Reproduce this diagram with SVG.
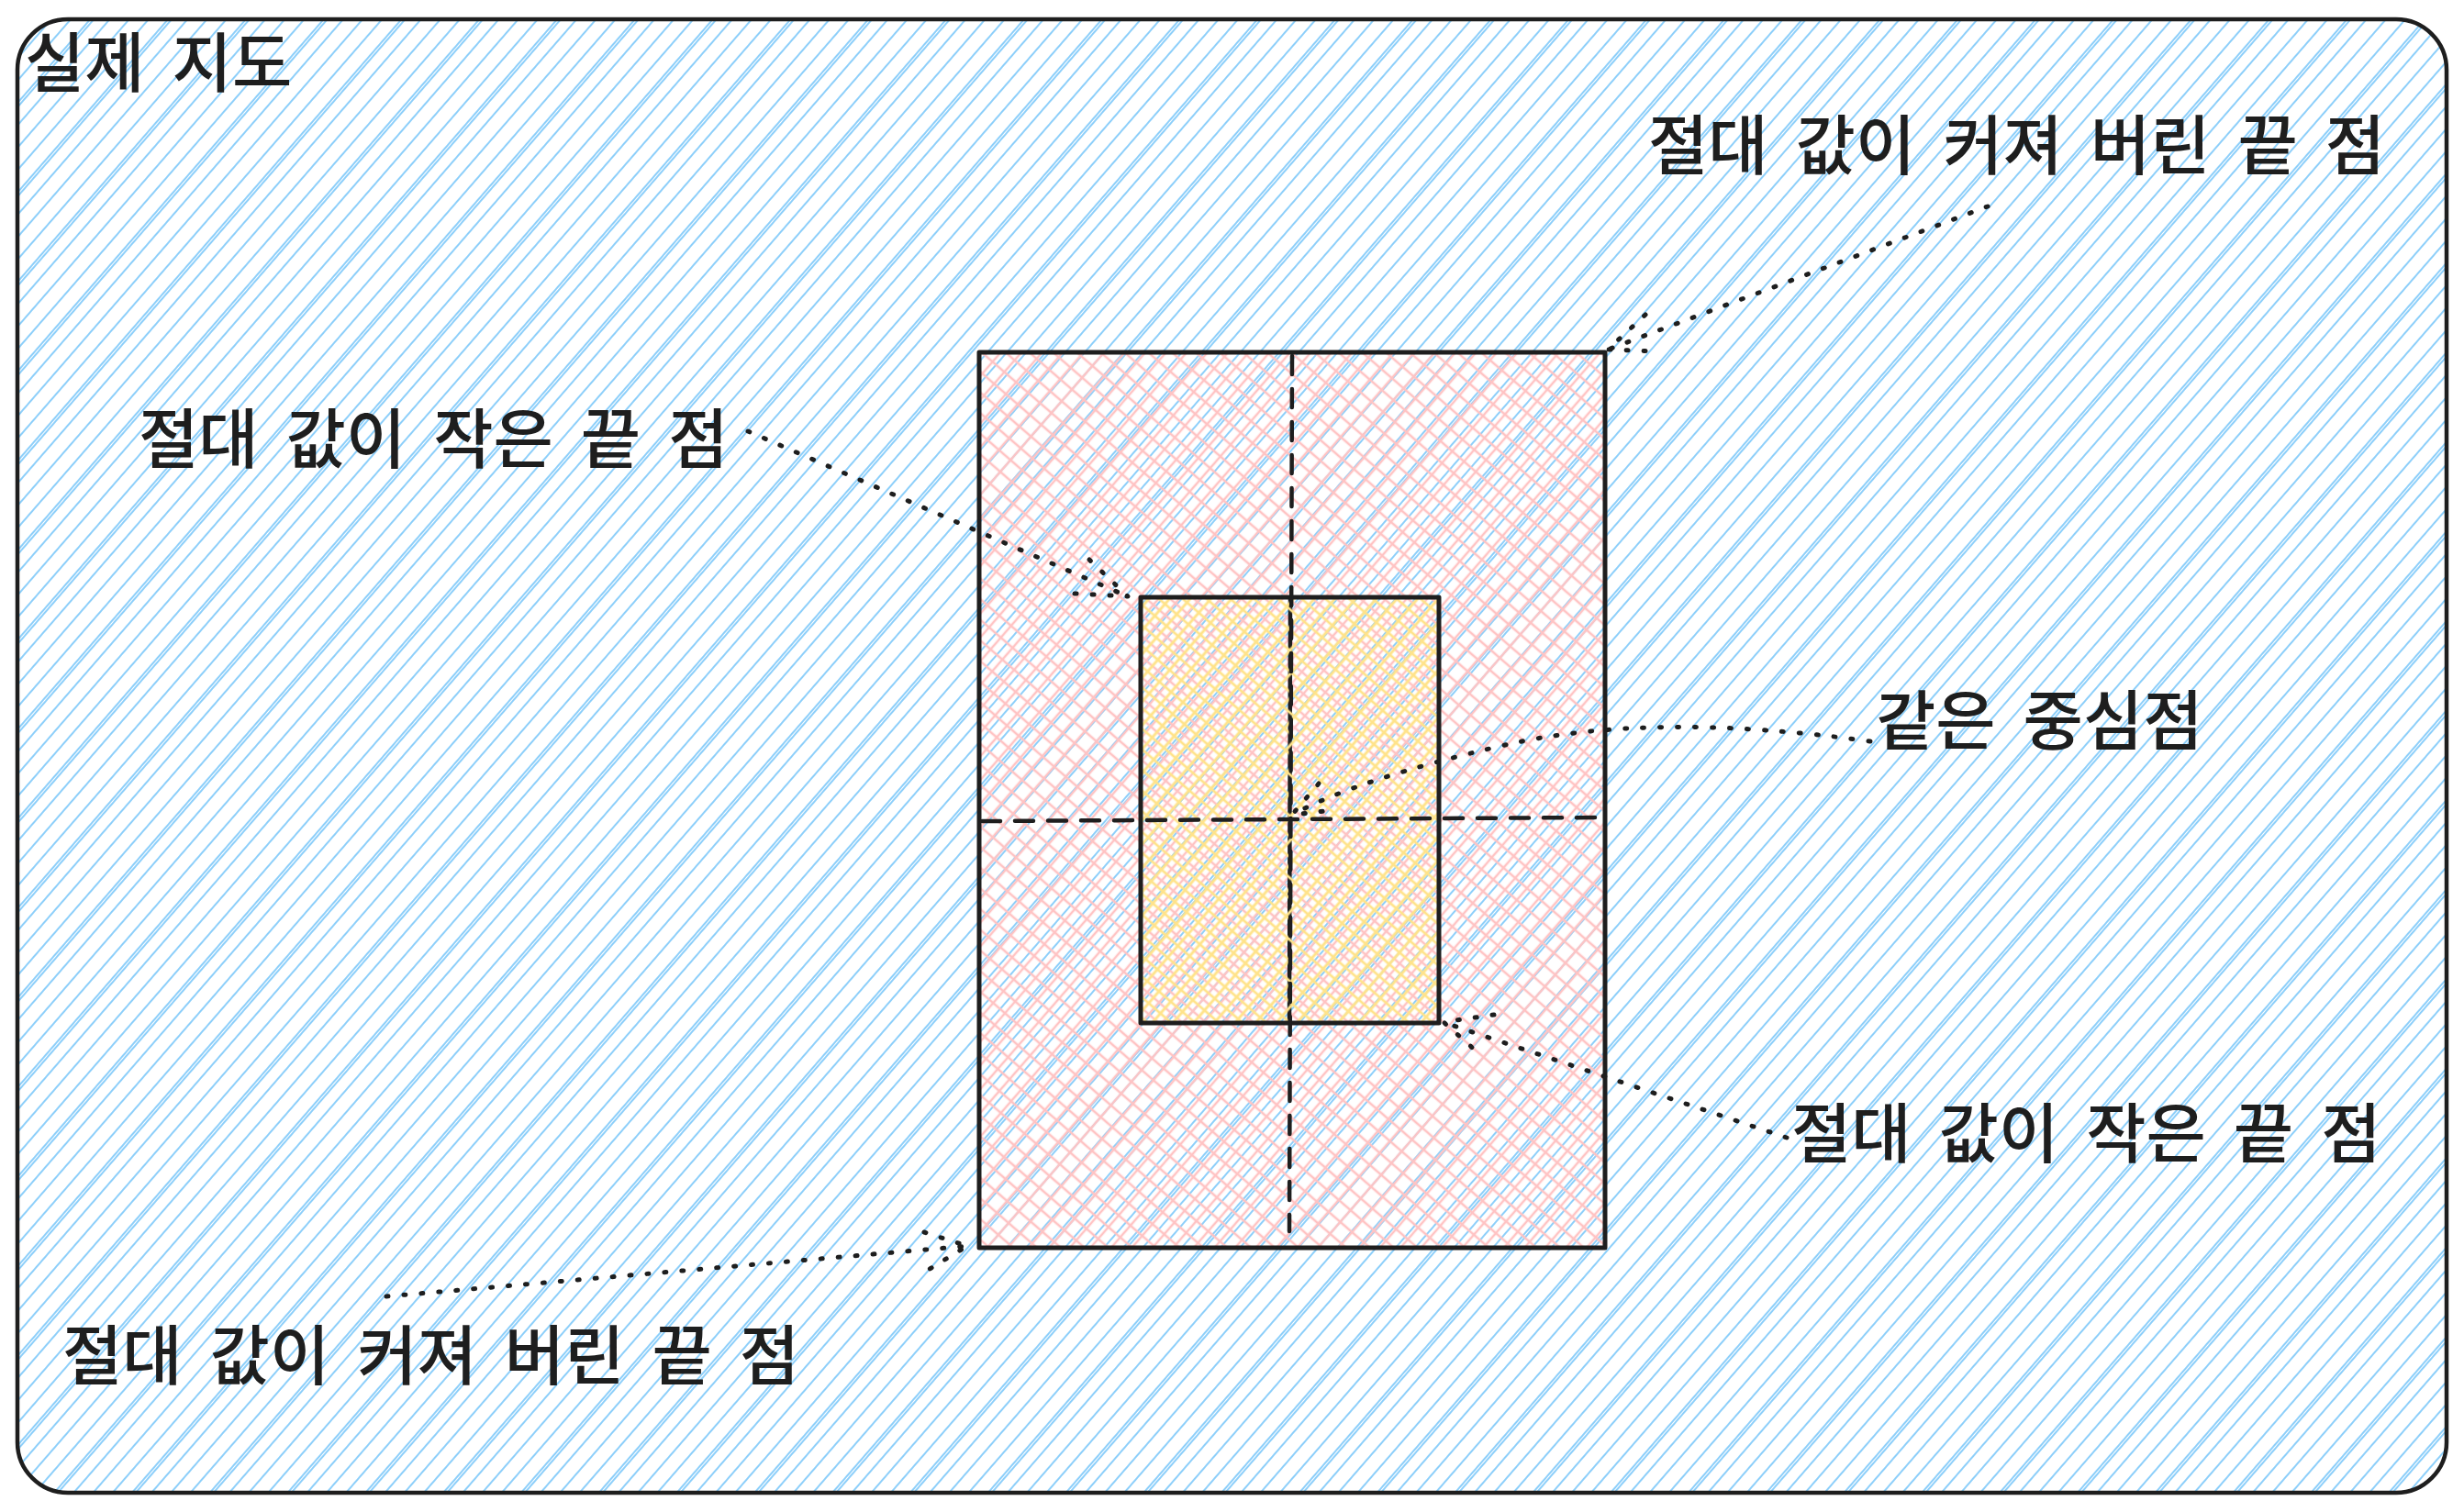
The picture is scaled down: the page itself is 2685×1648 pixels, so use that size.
<svg xmlns="http://www.w3.org/2000/svg" width="2685" height="1648" viewBox="0 0 2685 1648">
<defs>
<style>
.lbl{font-family:"Noto Sans CJK KR","Noto Sans CJK SC",sans-serif;font-size:71px;font-weight:500;fill:#1e1e1e;word-spacing:14px}
.edge{fill:none;stroke:#1e1e1e;stroke-width:5;stroke-linejoin:round;stroke-linecap:round}
.axis{fill:none;stroke:#1e1e1e;stroke-width:4.5;stroke-dasharray:20 16;stroke-linecap:round}
.solid{fill:none;stroke:#1e1e1e;stroke-width:4.5;stroke-linecap:round}
.dot{fill:none;stroke:#1e1e1e;stroke-width:5;stroke-dasharray:2 17;stroke-linecap:round;stroke-linejoin:round}
</style>
<pattern id="hBlue" patternUnits="userSpaceOnUse" width="100" height="64" patternTransform="rotate(-49)">
<g stroke="#8dcffa" stroke-width="2">
<line x1="0" y1="8" x2="100" y2="8"/>
<line x1="0" y1="24" x2="100" y2="24"/>
<line x1="0" y1="27" x2="100" y2="27"/>
<line x1="0" y1="40" x2="100" y2="40"/>
<line x1="0" y1="56" x2="100" y2="56"/>
</g>
</pattern>
<pattern id="xPink" patternUnits="userSpaceOnUse" width="51" height="51" patternTransform="rotate(-49)">
<g stroke="#ffc3c3" stroke-width="2.6">
<line x1="0" y1="4" x2="51" y2="4"/>
<line x1="0" y1="21" x2="51" y2="21"/>
<line x1="0" y1="38" x2="51" y2="38"/>
<line x1="4" y1="0" x2="4" y2="51"/>
<line x1="21" y1="0" x2="21" y2="51"/>
<line x1="38" y1="0" x2="38" y2="51"/>
</g>
</pattern>
<pattern id="xYellow" patternUnits="userSpaceOnUse" width="51" height="51" patternTransform="rotate(-49) translate(9 9)">
<g stroke="#ffe38a" stroke-width="2.8">
<line x1="0" y1="4" x2="51" y2="4"/>
<line x1="0" y1="21" x2="51" y2="21"/>
<line x1="0" y1="38" x2="51" y2="38"/>
<line x1="4" y1="0" x2="4" y2="51"/>
<line x1="21" y1="0" x2="21" y2="51"/>
<line x1="38" y1="0" x2="38" y2="51"/>
</g>
</pattern>
</defs>
<rect x="0" y="0" width="2685" height="1648" fill="#ffffff"/>
<g id="map">
<rect x="19" y="21" width="2647" height="1606" rx="55" fill="url(#hBlue)"/>
<rect x="19" y="21" width="2647" height="1606" rx="55" class="edge" style="stroke-width:4.5"/>
<text class="lbl" x="27" y="94">실제 지도</text>
</g>
<g id="big-extent">
<rect x="1067" y="384" width="682" height="976" fill="url(#xPink)"/>
<rect x="1067" y="384" width="682" height="976" class="edge"/>
</g>
<g id="small-extent">
<path class="solid" d="M1406,651 L1405,1115"/>
<rect x="1243" y="651" width="325" height="464" fill="url(#xYellow)"/>
<rect x="1243" y="651" width="325" height="464" class="edge"/>
</g>
<g id="axes">
<path class="axis" d="M1408,388 L1405,1342"/>
<path class="axis" d="M1070,895 L1740,891"/>
</g>
<g id="label-big-top" class="lbl"><text x="1796" y="184">절대 값이 커져 버린 끝 점</text></g>
<g id="label-small-top" class="lbl"><text x="151" y="504">절대 값이 작은 끝 점</text></g>
<g id="label-center" class="lbl"><text x="2044" y="811">같은 중심점</text></g>
<g id="label-small-bottom" class="lbl"><text x="1952" y="1261">절대 값이 작은 끝 점</text></g>
<g id="label-big-bottom" class="lbl"><text x="68" y="1503">절대 값이 커져 버린 끝 점</text></g>
<g id="connectors">
<path class="dot" d="M2166,225 L1752,381"/>
<path class="dot" d="M1793,343 L1752,381 L1805,383"/>
<path class="dot" d="M815,470 L1231,651"/>
<path class="dot" d="M1187,610 L1229,650 L1171,647"/>
<path class="dot" d="M2038,808 Q1800,775 1640,812 T1408,888"/>
<path class="dot" d="M1437,854 L1408,888 L1453,883"/>
<path class="dot" d="M1947,1240 L1572,1114"/>
<path class="dot" d="M1628,1106 L1573,1114 L1610,1147"/>
<path class="dot" d="M421,1413 L1055,1358"/>
<path class="dot" d="M1007,1343 L1054,1358 L1010,1385"/>
</g>
</svg>
